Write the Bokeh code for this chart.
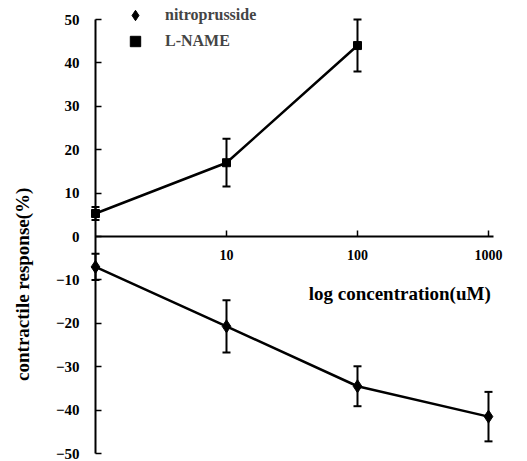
import numpy as np
from bokeh.plotting import figure
from bokeh.models import (LinearAxis, LogAxis, FixedTicker, Whisker, TeeHead, ColumnDataSource,
                          Legend, LegendItem, Label, Range1d)
from bokeh.embed import file_html
from bokeh.resources import INLINE

# ---- data ----
conc_lname = [1, 10, 100]
lname_mean = [5.3, 17.0, 44.0]
lname_err = [1.5, 5.5, 6.0]

conc_nitro = [1, 10, 100, 1000]
nitro_mean = [-7.0, -20.7, -34.5, -41.5]
nitro_err = [3.0, 6.0, 4.6, 5.7]

y_ticks = [-50, -40, -30, -20, -10, 0, 10, 20, 30, 40, 50]
x_tick_vals = [10, 100, 1000]
x_tick_labels = ["10", "100", "1000"]

FONT = "Liberation Serif"

p = figure(width=527, height=461, x_axis_type="log",
           x_range=Range1d(0.1883, 1985), y_range=Range1d(-51.84, 54.38),
           x_axis_location=None, y_axis_location=None,
           output_backend="svg", toolbar_location=None,
           min_border_left=0, min_border_right=0, min_border_top=0, min_border_bottom=0)
p.outline_line_color = None
p.grid.visible = False
p.background_fill_color = "white"

# y axis crossing at x = 1
yax = LinearAxis(ticker=FixedTicker(ticks=y_ticks), bounds=(-50, 50), fixed_location=1)
yax.axis_line_width = 2
yax.major_tick_in = 6
yax.major_tick_out = 0
yax.major_tick_line_width = 1.5
yax.minor_tick_line_color = None
yax.major_label_standoff = 16
yax.major_label_text_font = FONT
yax.major_label_text_font_style = "bold"
yax.major_label_text_font_size = "15px"
yax.major_label_text_color = "black"
p.add_layout(yax, "left")

# x axis crossing at y = 0
xax = LogAxis(ticker=FixedTicker(ticks=x_tick_vals), bounds=(1, 1092), fixed_location=0,
              major_label_overrides={v: t for v, t in zip(x_tick_vals, x_tick_labels)})
xax.axis_line_width = 2
xax.major_tick_in = 6
xax.major_tick_out = 0
xax.major_tick_line_width = 1.5
xax.minor_tick_line_color = None
xax.major_label_standoff = 13
xax.major_label_text_font = FONT
xax.major_label_text_font_style = "bold"
xax.major_label_text_font_size = "14px"
xax.major_label_text_color = "black"
p.add_layout(xax, "below")

# series
src_l = ColumnDataSource(dict(x=conc_lname, y=lname_mean,
                              lo=[m - e for m, e in zip(lname_mean, lname_err)],
                              hi=[m + e for m, e in zip(lname_mean, lname_err)]))
src_n = ColumnDataSource(dict(x=conc_nitro, y=nitro_mean,
                              lo=[m - e for m, e in zip(nitro_mean, nitro_err)],
                              hi=[m + e for m, e in zip(nitro_mean, nitro_err)]))

for src in (src_l, src_n):
    w = Whisker(source=src, base="x", lower="lo", upper="hi", line_color="black", line_width=2,
                upper_head=TeeHead(size=8, line_width=2, line_color="black"),
                lower_head=TeeHead(size=8, line_width=2, line_color="black"))
    p.add_layout(w)

p.line("x", "y", source=src_l, line_color="black", line_width=2.5)
p.line("x", "y", source=src_n, line_color="black", line_width=2.5)
r_l = p.scatter("x", "y", source=src_l, marker="square", size=8, color="black")
r_n = p.scatter("x", "y", source=src_n, marker="diamond", size=13, color="black")

legend = Legend(items=[LegendItem(label="nitroprusside", renderers=[r_n]),
                       LegendItem(label="L-NAME", renderers=[r_l])],
                location=(122, 407), orientation="vertical",
                glyph_width=26, glyph_height=26, label_height=26, spacing=0, padding=0,
                label_standoff=17, border_line_alpha=0, background_fill_alpha=0,
                label_text_font=FONT, label_text_font_style="bold", label_text_font_size="16px",
                margin=0)
p.add_layout(legend, "center")

# axis titles
p.add_layout(Label(x=210, y=-13.1, text="log concentration(uM)", text_align="center",
                   text_baseline="middle", text_font=FONT, text_font_style="bold",
                   text_font_size="19px", text_color="black"))
p.add_layout(Label(x=0.277, y=-11, text="contractile response(%)", angle=np.pi / 2,
                   text_align="center", text_baseline="middle", text_font=FONT,
                   text_font_style="bold", text_font_size="19px", text_color="black"))

open("out.html", "w").write(file_html(p, INLINE))
